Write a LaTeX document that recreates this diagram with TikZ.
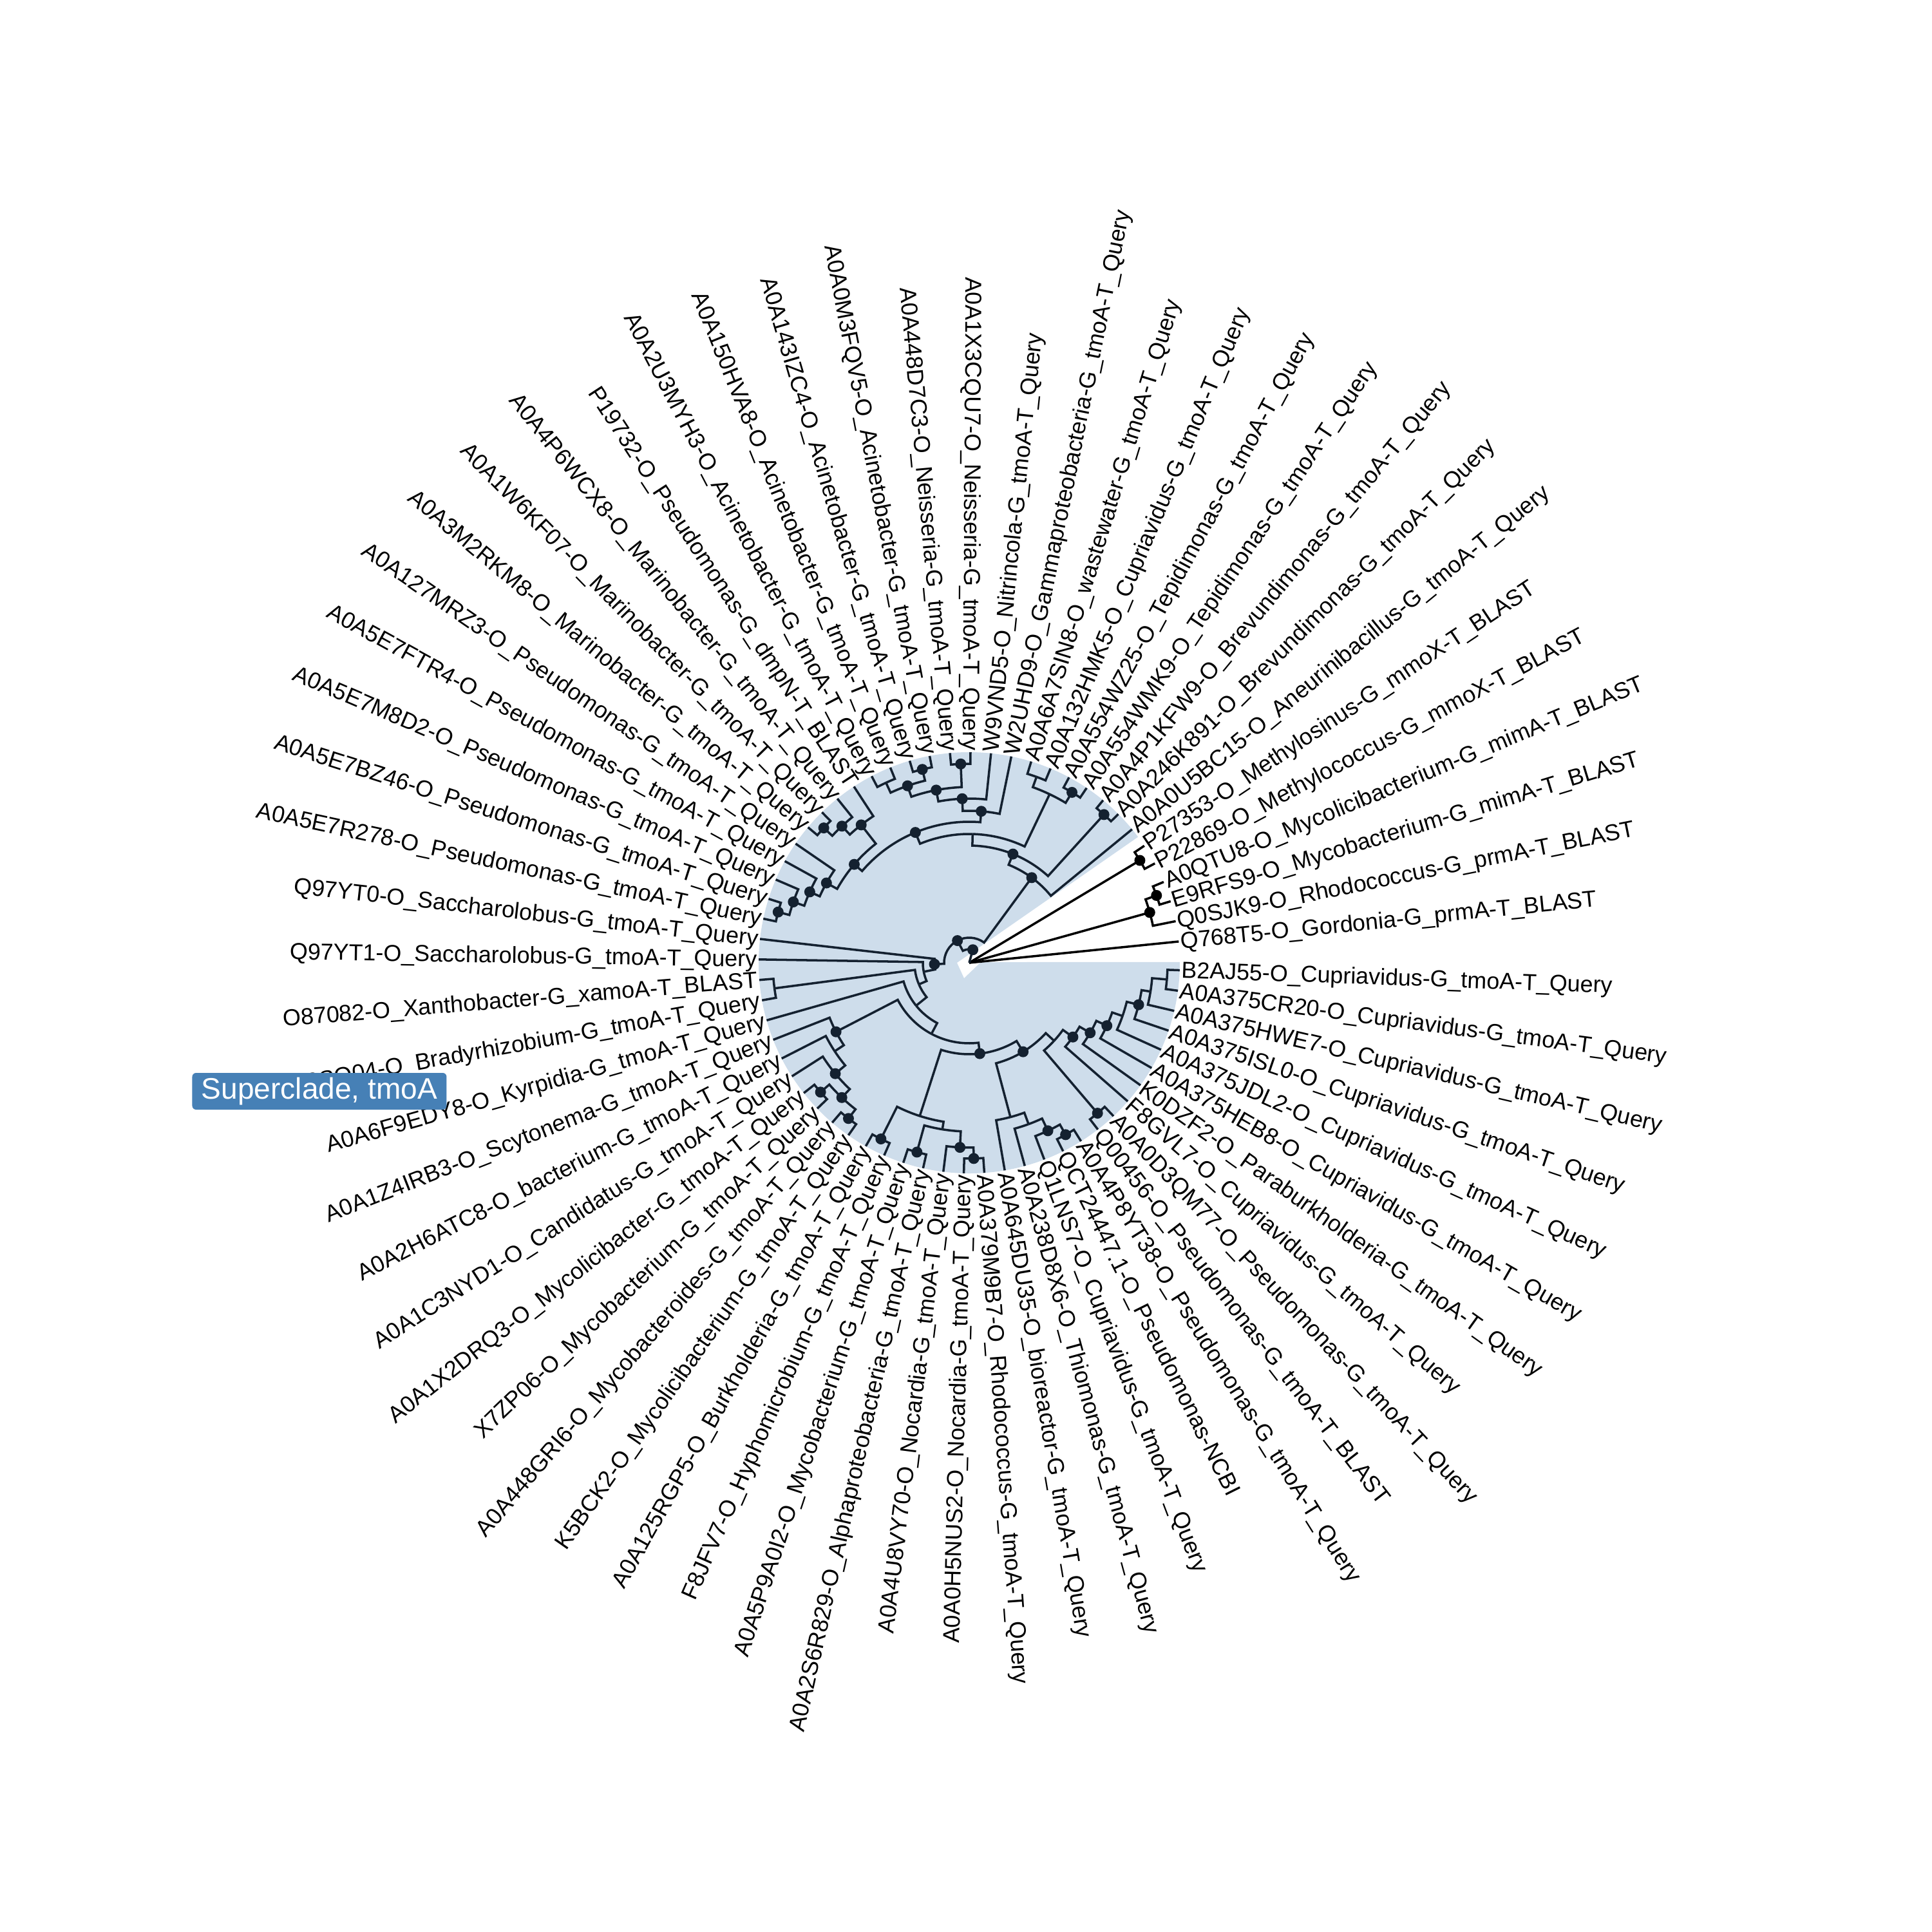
\documentclass[tikz,border=0pt]{standalone}
\usepackage{fontspec}
\setmainfont{Liberation Sans}
\usepackage{xcolor}
\usetikzlibrary{calc}
\definecolor{treeblue}{RGB}{20,33,48}
\definecolor{cladefill}{RGB}{206,221,235}
\definecolor{badgeblue}{RGB}{70,128,182}
% elbow branch: arc at the parent radius, then radial out to the child
\newcommand{\branch}[3][edge]{%
  \draw[#1] let \p1=(#2), \p2=(#3),
    \n1={atan2(\y1,\x1)}, \n2={veclen(\x1,\y1)},
    \n3={\n1+mod(atan2(\y2,\x2)-\n1+540,360)-180}
    in (#2) arc[start angle=\n1, end angle=\n3, radius=\n2] -- (#3);}

\begin{document}
\begin{tikzpicture}[
  edge/.style={draw=treeblue, line width=1pt},
  outedge/.style={draw=black, line width=1pt},
  dot/.style={circle, fill=treeblue, inner sep=0pt, minimum size=0.17cm},
  odot/.style={dot, fill=black},
  lblR/.style={anchor=west, inner xsep=0.6pt, inner ysep=0pt, font=\fontsize{10.2}{12}\selectfont, text height=1.5ex, text depth=0.25ex},
  lblL/.style={lblR, anchor=east},
  badge/.style={fill=badgeblue, text=white, rounded corners=0.06cm, minimum width=3.95cm, minimum height=0.57cm, inner sep=0pt, font=\fontsize{13.1}{15}\selectfont}
]
\useasboundingbox (-15.05,-15.04) rectangle (14.95,14.95);

% clade highlight
\fill[cladefill] (-0.19,0) -- (36.7:3.27) arc[start angle=36.7, end angle=360.18, radius=3.27] -- (0.18,0.01) -- (-0.08,-0.24) -- cycle;

% leaf tips
\coordinate (t0) at (5.80:3.27);   \coordinate (t1) at (11.39:3.27);  \coordinate (t2) at (16.98:3.27);  \coordinate (t3) at (22.57:3.27);
\coordinate (t4) at (28.16:3.27);  \coordinate (t5) at (33.75:3.27);  \coordinate (t6) at (39.34:3.27);  \coordinate (t7) at (44.93:3.27);
\coordinate (t8) at (50.52:3.27);  \coordinate (t9) at (56.11:3.27);  \coordinate (t10) at (61.70:3.27); \coordinate (t11) at (67.29:3.27);
\coordinate (t12) at (72.88:3.27); \coordinate (t13) at (78.47:3.27); \coordinate (t14) at (84.06:3.27); \coordinate (t15) at (89.65:3.27);
\coordinate (t16) at (95.24:3.27); \coordinate (t17) at (100.83:3.27); \coordinate (t18) at (106.42:3.27); \coordinate (t19) at (112.01:3.27);
\coordinate (t20) at (117.60:3.27); \coordinate (t21) at (123.19:3.27); \coordinate (t22) at (128.78:3.27); \coordinate (t23) at (134.37:3.27);
\coordinate (t24) at (139.96:3.27); \coordinate (t25) at (145.55:3.27); \coordinate (t26) at (151.14:3.27); \coordinate (t27) at (156.73:3.27);
\coordinate (t28) at (162.32:3.27); \coordinate (t29) at (167.91:3.27); \coordinate (t30) at (173.50:3.27); \coordinate (t31) at (179.09:3.27);
\coordinate (t32) at (184.68:3.27); \coordinate (t33) at (190.27:3.27); \coordinate (t34) at (195.86:3.27); \coordinate (t35) at (201.45:3.27);
\coordinate (t36) at (207.04:3.27); \coordinate (t37) at (212.63:3.27); \coordinate (t38) at (218.22:3.27); \coordinate (t39) at (223.81:3.27);
\coordinate (t40) at (229.40:3.27); \coordinate (t41) at (234.99:3.27); \coordinate (t42) at (240.58:3.27); \coordinate (t43) at (246.17:3.27);
\coordinate (t44) at (251.76:3.27); \coordinate (t45) at (257.35:3.27); \coordinate (t46) at (262.94:3.27); \coordinate (t47) at (268.53:3.27);
\coordinate (t48) at (274.12:3.27); \coordinate (t49) at (279.71:3.27); \coordinate (t50) at (285.30:3.27); \coordinate (t51) at (290.89:3.27);
\coordinate (t52) at (296.48:3.27); \coordinate (t53) at (302.07:3.27); \coordinate (t54) at (307.66:3.27); \coordinate (t55) at (313.25:3.27);
\coordinate (t56) at (318.84:3.27); \coordinate (t57) at (324.43:3.27); \coordinate (t58) at (330.02:3.27); \coordinate (t59) at (335.61:3.27);
\coordinate (t60) at (341.20:3.27); \coordinate (t61) at (346.79:3.27); \coordinate (t62) at (352.38:3.27); \coordinate (t63) at (357.97:3.27);

% internal nodes
\coordinate (R) at (0,0);
\coordinate (A) at (15.58:2.91);  \coordinate (B) at (19.78:3.09);  \coordinate (C) at (30.96:3.09);
\coordinate (W) at (74.5:0.21);   \coordinate (Z) at (118.02:0.39);
\coordinate (Y) at (53.72:1.64);  \coordinate (V) at (68.10:1.82);  \coordinate (n78) at (47.73:3.11);
\coordinate (P) at (88.47:2.00);  \coordinate (T) at (64.50:2.90);  \coordinate (n910) at (58.91:3.09);
\coordinate (n1112) at (70.09:3.07); \coordinate (S) at (112.45:2.19);
\coordinate (d11) at (85.46:2.36); \coordinate (d12) at (92.45:2.55); \coordinate (d14) at (100.83:2.73);
\coordinate (n1516) at (92.45:3.09); \coordinate (d16) at (109.22:2.91); \coordinate (n1718) at (103.63:3.09);
\coordinate (n1920) at (114.81:3.08); \coordinate (d21) at (139.44:2.35); \coordinate (d18) at (128.08:2.72);
\coordinate (d19) at (132.97:2.90); \coordinate (d20) at (137.17:3.08); \coordinate (d22) at (150.79:2.54);
\coordinate (d23) at (156.03:2.71); \coordinate (d24) at (160.92:2.89); \coordinate (d25) at (165.12:3.07);
\coordinate (Q) at (182.33:0.54);  \coordinate (m4) at (191.15:0.72); \coordinate (m3) at (203.21:0.85);
\coordinate (n3233) at (187.48:3.05); \coordinate (m2) at (218.94:1.06); \coordinate (M) at (242.02:1.25);
\coordinate (d26) at (207.39:2.33); \coordinate (x1) at (213.33:2.50); \coordinate (d27) at (219.62:2.70);
\coordinate (d28) at (226.61:2.88); \coordinate (n3839) at (221.02:3.06); \coordinate (n4041) at (232.20:3.06);
\coordinate (d35) at (276.65:1.42); \coordinate (K) at (252.11:2.50); \coordinate (n4243) at (243.38:3.06);
\coordinate (k2) at (260.84:2.62); \coordinate (n4445) at (254.56:3.05); \coordinate (d33) at (267.13:2.87);
\coordinate (n4748) at (271.33:3.04); \coordinate (d36) at (301.19:1.615); \coordinate (j1) at (284.95:2.48);
\coordinate (j1b) at (290.19:2.67); \coordinate (d37) at (295.08:2.88); \coordinate (n5253) at (299.28:3.06);
\coordinate (j2) at (317.42:1.79); \coordinate (n5455) at (310.46:3.07); \coordinate (d40) at (324.39:1.98);
\coordinate (d41) at (329.93:2.17); \coordinate (d42) at (335.44:2.35); \coordinate (e1) at (340.85:2.52);
\coordinate (d43) at (346.09:2.71); \coordinate (f1) at (350.98:2.85); \coordinate (n6263) at (355.18:3.08);

% outgroup
\draw[outedge] (R) -- (t0);
\draw[outedge] (R) -- (A);
\draw[outedge] (R) -- (C);
\branch[outedge]{A}{t1} \branch[outedge]{A}{B}
\branch[outedge]{B}{t2} \branch[outedge]{B}{t3}
\branch[outedge]{C}{t4} \branch[outedge]{C}{t5}

% ingroup
\draw[edge] (R) -- (W);
\branch{W}{Z}
\branch{Z}{Y} \branch{Z}{Q}
\branch{Y}{t6} \branch{Y}{V}
\branch{V}{n78} \branch{V}{P}
\branch{n78}{t7} \branch{n78}{t8}
\branch{P}{T} \branch{P}{S}
\branch{T}{n910} \branch{T}{n1112}
\branch{n910}{t9} \branch{n910}{t10}
\branch{n1112}{t11} \branch{n1112}{t12}
\branch{S}{d11} \branch{S}{d21}
\branch{d11}{t13} \branch{d11}{d12}
\branch{d12}{t14} \branch{d12}{d14}
\branch{d14}{n1516} \branch{d14}{d16}
\branch{n1516}{t15} \branch{n1516}{t16}
\branch{d16}{n1718} \branch{d16}{n1920}
\branch{n1718}{t17} \branch{n1718}{t18}
\branch{n1920}{t19} \branch{n1920}{t20}
\branch{d21}{d18} \branch{d21}{d22}
\branch{d18}{t21} \branch{d18}{d19}
\branch{d19}{t22} \branch{d19}{d20}
\branch{d20}{t23} \branch{d20}{t24}
\branch{d22}{t25} \branch{d22}{d23}
\branch{d23}{t26} \branch{d23}{d24}
\branch{d24}{t27} \branch{d24}{d25}
\branch{d25}{t28} \branch{d25}{t29}
\branch{Q}{t30} \branch{Q}{m4}
\branch{m4}{t31} \branch{m4}{m3}
\branch{m3}{n3233} \branch{m3}{m2}
\branch{n3233}{t32} \branch{n3233}{t33}
\branch{m2}{t34} \branch{m2}{M}
\branch{M}{d26} \branch{M}{d35}
\branch{d26}{t35} \branch{d26}{x1}
\branch{x1}{t36} \branch{x1}{d27}
\branch{d27}{t37} \branch{d27}{d28}
\branch{d28}{n3839} \branch{d28}{n4041}
\branch{n3839}{t38} \branch{n3839}{t39}
\branch{n4041}{t40} \branch{n4041}{t41}
\branch{d35}{K} \branch{d35}{d36}
\branch{K}{n4243} \branch{K}{k2}
\branch{n4243}{t42} \branch{n4243}{t43}
\branch{k2}{n4445} \branch{k2}{d33}
\branch{n4445}{t44} \branch{n4445}{t45}
\branch{d33}{t46} \branch{d33}{n4748}
\branch{n4748}{t47} \branch{n4748}{t48}
\branch{d36}{j1} \branch{d36}{j2}
\branch{j1}{t49} \branch{j1}{j1b}
\branch{j1b}{t50} \branch{j1b}{d37}
\branch{d37}{t51} \branch{d37}{n5253}
\branch{n5253}{t52} \branch{n5253}{t53}
\branch{j2}{n5455} \branch{j2}{d40}
\branch{n5455}{t54} \branch{n5455}{t55}
\branch{d40}{t56} \branch{d40}{d41}
\branch{d41}{t57} \branch{d41}{d42}
\branch{d42}{t58} \branch{d42}{e1}
\branch{e1}{t59} \branch{e1}{d43}
\branch{d43}{t60} \branch{d43}{f1}
\branch{f1}{t61} \branch{f1}{n6263}
\branch{n6263}{t62} \branch{n6263}{t63}

% support dots
\node[odot] (oA) at (A) {}; \node[odot] (oB) at (B) {}; \node[odot] (oC) at (C) {};
\node[dot] (oW) at (W) {}; \node[dot] (oZ) at (Z) {}; \node[dot] (oY) at (Y) {}; \node[dot] (oV) at (V) {};
\node[dot] (on78) at (n78) {}; \node[dot] (on910) at (n910) {}; \node[dot] (oS) at (S) {};
\node[dot] (od11) at (d11) {}; \node[dot] (od12) at (d12) {}; \node[dot] (od14) at (d14) {};
\node[dot] (on1516) at (n1516) {}; \node[dot] (od16) at (d16) {}; \node[dot] (on1718) at (n1718) {};
\node[dot] (od18) at (d18) {}; \node[dot] (od19) at (d19) {}; \node[dot] (od20) at (d20) {};
\node[dot] (od21) at (d21) {}; \node[dot] (od22) at (d22) {}; \node[dot] (od23) at (d23) {};
\node[dot] (od24) at (d24) {}; \node[dot] (od25) at (d25) {}; \node[dot] (oQ) at (Q) {};
\node[dot] (od26) at (d26) {}; \node[dot] (od27) at (d27) {}; \node[dot] (od28) at (d28) {};
\node[dot] (on3839) at (n3839) {}; \node[dot] (on4041) at (n4041) {}; \node[dot] (on4243) at (n4243) {};
\node[dot] (on4445) at (n4445) {}; \node[dot] (od33) at (d33) {}; \node[dot] (on4748) at (n4748) {};
\node[dot] (od35) at (d35) {}; \node[dot] (od36) at (d36) {}; \node[dot] (od37) at (d37) {};
\node[dot] (on5253) at (n5253) {}; \node[dot] (on5455) at (n5455) {}; \node[dot] (od40) at (d40) {};
\node[dot] (od41) at (d41) {}; \node[dot] (od42) at (d42) {}; \node[dot] (od43) at (d43) {};

% leaf labels
\node[lblR, rotate=5.80] (l0) at (t0) {Q768T5-O\_Gordonia-G\_prmA-T\_BLAST};
\node[lblR, rotate=11.39] (l1) at (t1) {Q0SJK9-O\_Rhodococcus-G\_prmA-T\_BLAST};
\node[lblR, rotate=16.98] (l2) at (t2) {E9RFS9-O\_Mycobacterium-G\_mimA-T\_BLAST};
\node[lblR, rotate=22.57] (l3) at (t3) {A0QTU8-O\_Mycolicibacterium-G\_mimA-T\_BLAST};
\node[lblR, rotate=28.16] (l4) at (t4) {P22869-O\_Methylococcus-G\_mmoX-T\_BLAST};
\node[lblR, rotate=33.75] (l5) at (t5) {P27353-O\_Methylosinus-G\_mmoX-T\_BLAST};
\node[lblR, rotate=39.34] (l6) at (t6) {A0A0U5BC15-O\_Aneurinibacillus-G\_tmoA-T\_Query};
\node[lblR, rotate=44.93] (l7) at (t7) {A0A246K891-O\_Brevundimonas-G\_tmoA-T\_Query};
\node[lblR, rotate=50.52] (l8) at (t8) {A0A4P1KFW9-O\_Brevundimonas-G\_tmoA-T\_Query};
\node[lblR, rotate=56.11] (l9) at (t9) {A0A554WMK9-O\_Tepidimonas-G\_tmoA-T\_Query};
\node[lblR, rotate=61.70] (l10) at (t10) {A0A554WZ25-O\_Tepidimonas-G\_tmoA-T\_Query};
\node[lblR, rotate=67.29] (l11) at (t11) {A0A132HMK5-O\_Cupriavidus-G\_tmoA-T\_Query};
\node[lblR, rotate=72.88] (l12) at (t12) {A0A6A7SIN8-O\_wastewater-G\_tmoA-T\_Query};
\node[lblR, rotate=78.47] (l13) at (t13) {W2UHD9-O\_Gammaproteobacteria-G\_tmoA-T\_Query};
\node[lblR, rotate=84.06] (l14) at (t14) {W9VND5-O\_Nitrincola-G\_tmoA-T\_Query};
\node[lblL, rotate=-90.35] (l15) at (t15) {A0A1X3CQU7-O\_Neisseria-G\_tmoA-T\_Query};
\node[lblL, rotate=-84.76] (l16) at (t16) {A0A448D7C3-O\_Neisseria-G\_tmoA-T\_Query};
\node[lblL, rotate=-79.17] (l17) at (t17) {A0A0M3FQV5-O\_Acinetobacter-G\_tmoA-T\_Query};
\node[lblL, rotate=-73.58] (l18) at (t18) {A0A143IZC4-O\_Acinetobacter-G\_tmoA-T\_Query};
\node[lblL, rotate=-67.99] (l19) at (t19) {A0A150HVA8-O\_Acinetobacter-G\_tmoA-T\_Query};
\node[lblL, rotate=-62.40] (l20) at (t20) {A0A2U3MYH3-O\_Acinetobacter-G\_tmoA-T\_Query};
\node[lblL, rotate=-56.81] (l21) at (t21) {P19732-O\_Pseudomonas-G\_dmpN-T\_BLAST};
\node[lblL, rotate=-51.22] (l22) at (t22) {A0A4P6WCX8-O\_Marinobacter-G\_tmoA-T\_Query};
\node[lblL, rotate=-45.63] (l23) at (t23) {A0A1W6KF07-O\_Marinobacter-G\_tmoA-T\_Query};
\node[lblL, rotate=-40.04] (l24) at (t24) {A0A3M2RKM8-O\_Marinobacter-G\_tmoA-T\_Query};
\node[lblL, rotate=-34.45] (l25) at (t25) {A0A127MRZ3-O\_Pseudomonas-G\_tmoA-T\_Query};
\node[lblL, rotate=-28.86] (l26) at (t26) {A0A5E7FTR4-O\_Pseudomonas-G\_tmoA-T\_Query};
\node[lblL, rotate=-23.27] (l27) at (t27) {A0A5E7M8D2-O\_Pseudomonas-G\_tmoA-T\_Query};
\node[lblL, rotate=-17.68] (l28) at (t28) {A0A5E7BZ46-O\_Pseudomonas-G\_tmoA-T\_Query};
\node[lblL, rotate=-12.09] (l29) at (t29) {A0A5E7R278-O\_Pseudomonas-G\_tmoA-T\_Query};
\node[lblL, rotate=-6.50] (l30) at (t30) {Q97YT0-O\_Saccharolobus-G\_tmoA-T\_Query};
\node[lblL, rotate=-0.91] (l31) at (t31) {Q97YT1-O\_Saccharolobus-G\_tmoA-T\_Query};
\node[lblL, rotate=4.68] (l32) at (t32) {O87082-O\_Xanthobacter-G\_xamoA-T\_BLAST};
\node[lblL, rotate=10.27] (l33) at (t33) {A0A1L3SQ04-O\_Bradyrhizobium-G\_tmoA-T\_Query};
\node[lblL, rotate=15.86] (l34) at (t34) {A0A6F9EDY8-O\_Kyrpidia-G\_tmoA-T\_Query};
\node[lblL, rotate=21.45] (l35) at (t35) {A0A1Z4IRB3-O\_Scytonema-G\_tmoA-T\_Query};
\node[lblL, rotate=27.04] (l36) at (t36) {A0A2H6ATC8-O\_bacterium-G\_tmoA-T\_Query};
\node[lblL, rotate=32.63] (l37) at (t37) {A0A1C3NYD1-O\_Candidatus-G\_tmoA-T\_Query};
\node[lblL, rotate=38.22] (l38) at (t38) {A0A1X2DRQ3-O\_Mycolicibacter-G\_tmoA-T\_Query};
\node[lblL, rotate=43.81] (l39) at (t39) {X7ZP06-O\_Mycobacterium-G\_tmoA-T\_Query};
\node[lblL, rotate=49.40] (l40) at (t40) {A0A448GRI6-O\_Mycobacteroides-G\_tmoA-T\_Query};
\node[lblL, rotate=54.99] (l41) at (t41) {K5BCK2-O\_Mycolicibacterium-G\_tmoA-T\_Query};
\node[lblL, rotate=60.58] (l42) at (t42) {A0A125RGP5-O\_Burkholderia-G\_tmoA-T\_Query};
\node[lblL, rotate=66.17] (l43) at (t43) {F8JFV7-O\_Hyphomicrobium-G\_tmoA-T\_Query};
\node[lblL, rotate=71.76] (l44) at (t44) {A0A5P9A0I2-O\_Mycobacterium-G\_tmoA-T\_Query};
\node[lblL, rotate=77.35] (l45) at (t45) {A0A2S6R829-O\_Alphaproteobacteria-G\_tmoA-T\_Query};
\node[lblL, rotate=82.94] (l46) at (t46) {A0A4U8VY70-O\_Nocardia-G\_tmoA-T\_Query};
\node[lblL, rotate=88.53] (l47) at (t47) {A0A0H5NUS2-O\_Nocardia-G\_tmoA-T\_Query};
\node[lblR, rotate=274.12] (l48) at (t48) {A0A379M9B7-O\_Rhodococcus-G\_tmoA-T\_Query};
\node[lblR, rotate=279.71] (l49) at (t49) {A0A645DU35-O\_bioreactor-G\_tmoA-T\_Query};
\node[lblR, rotate=285.30] (l50) at (t50) {A0A238D8X6-O\_Thiomonas-G\_tmoA-T\_Query};
\node[lblR, rotate=290.89] (l51) at (t51) {Q1LNS7-O\_Cupriavidus-G\_tmoA-T\_Query};
\node[lblR, rotate=296.48] (l52) at (t52) {QCT24447.1-O\_Pseudomonas-NCBI};
\node[lblR, rotate=302.07] (l53) at (t53) {A0A4P8YT38-O\_Pseudomonas-G\_tmoA-T\_Query};
\node[lblR, rotate=307.66] (l54) at (t54) {Q00456-O\_Pseudomonas-G\_tmoA-T\_BLAST};
\node[lblR, rotate=313.25] (l55) at (t55) {A0A0D3QM77-O\_Pseudomonas-G\_tmoA-T\_Query};
\node[lblR, rotate=318.84] (l56) at (t56) {F8GVL7-O\_Cupriavidus-G\_tmoA-T\_Query};
\node[lblR, rotate=324.43] (l57) at (t57) {K0DZF2-O\_Paraburkholderia-G\_tmoA-T\_Query};
\node[lblR, rotate=330.02] (l58) at (t58) {A0A375HEB8-O\_Cupriavidus-G\_tmoA-T\_Query};
\node[lblR, rotate=335.61] (l59) at (t59) {A0A375JDL2-O\_Cupriavidus-G\_tmoA-T\_Query};
\node[lblR, rotate=341.20] (l60) at (t60) {A0A375ISL0-O\_Cupriavidus-G\_tmoA-T\_Query};
\node[lblR, rotate=346.79] (l61) at (t61) {A0A375HWE7-O\_Cupriavidus-G\_tmoA-T\_Query};
\node[lblR, rotate=352.38] (l62) at (t62) {A0A375CR20-O\_Cupriavidus-G\_tmoA-T\_Query};
\node[lblR, rotate=357.97] (l63) at (t63) {B2AJ55-O\_Cupriavidus-G\_tmoA-T\_Query};

% clade badge
\node[badge] (sc) at (-10.09,-1.995) {Superclade, tmoA};
\end{tikzpicture}
\end{document}
